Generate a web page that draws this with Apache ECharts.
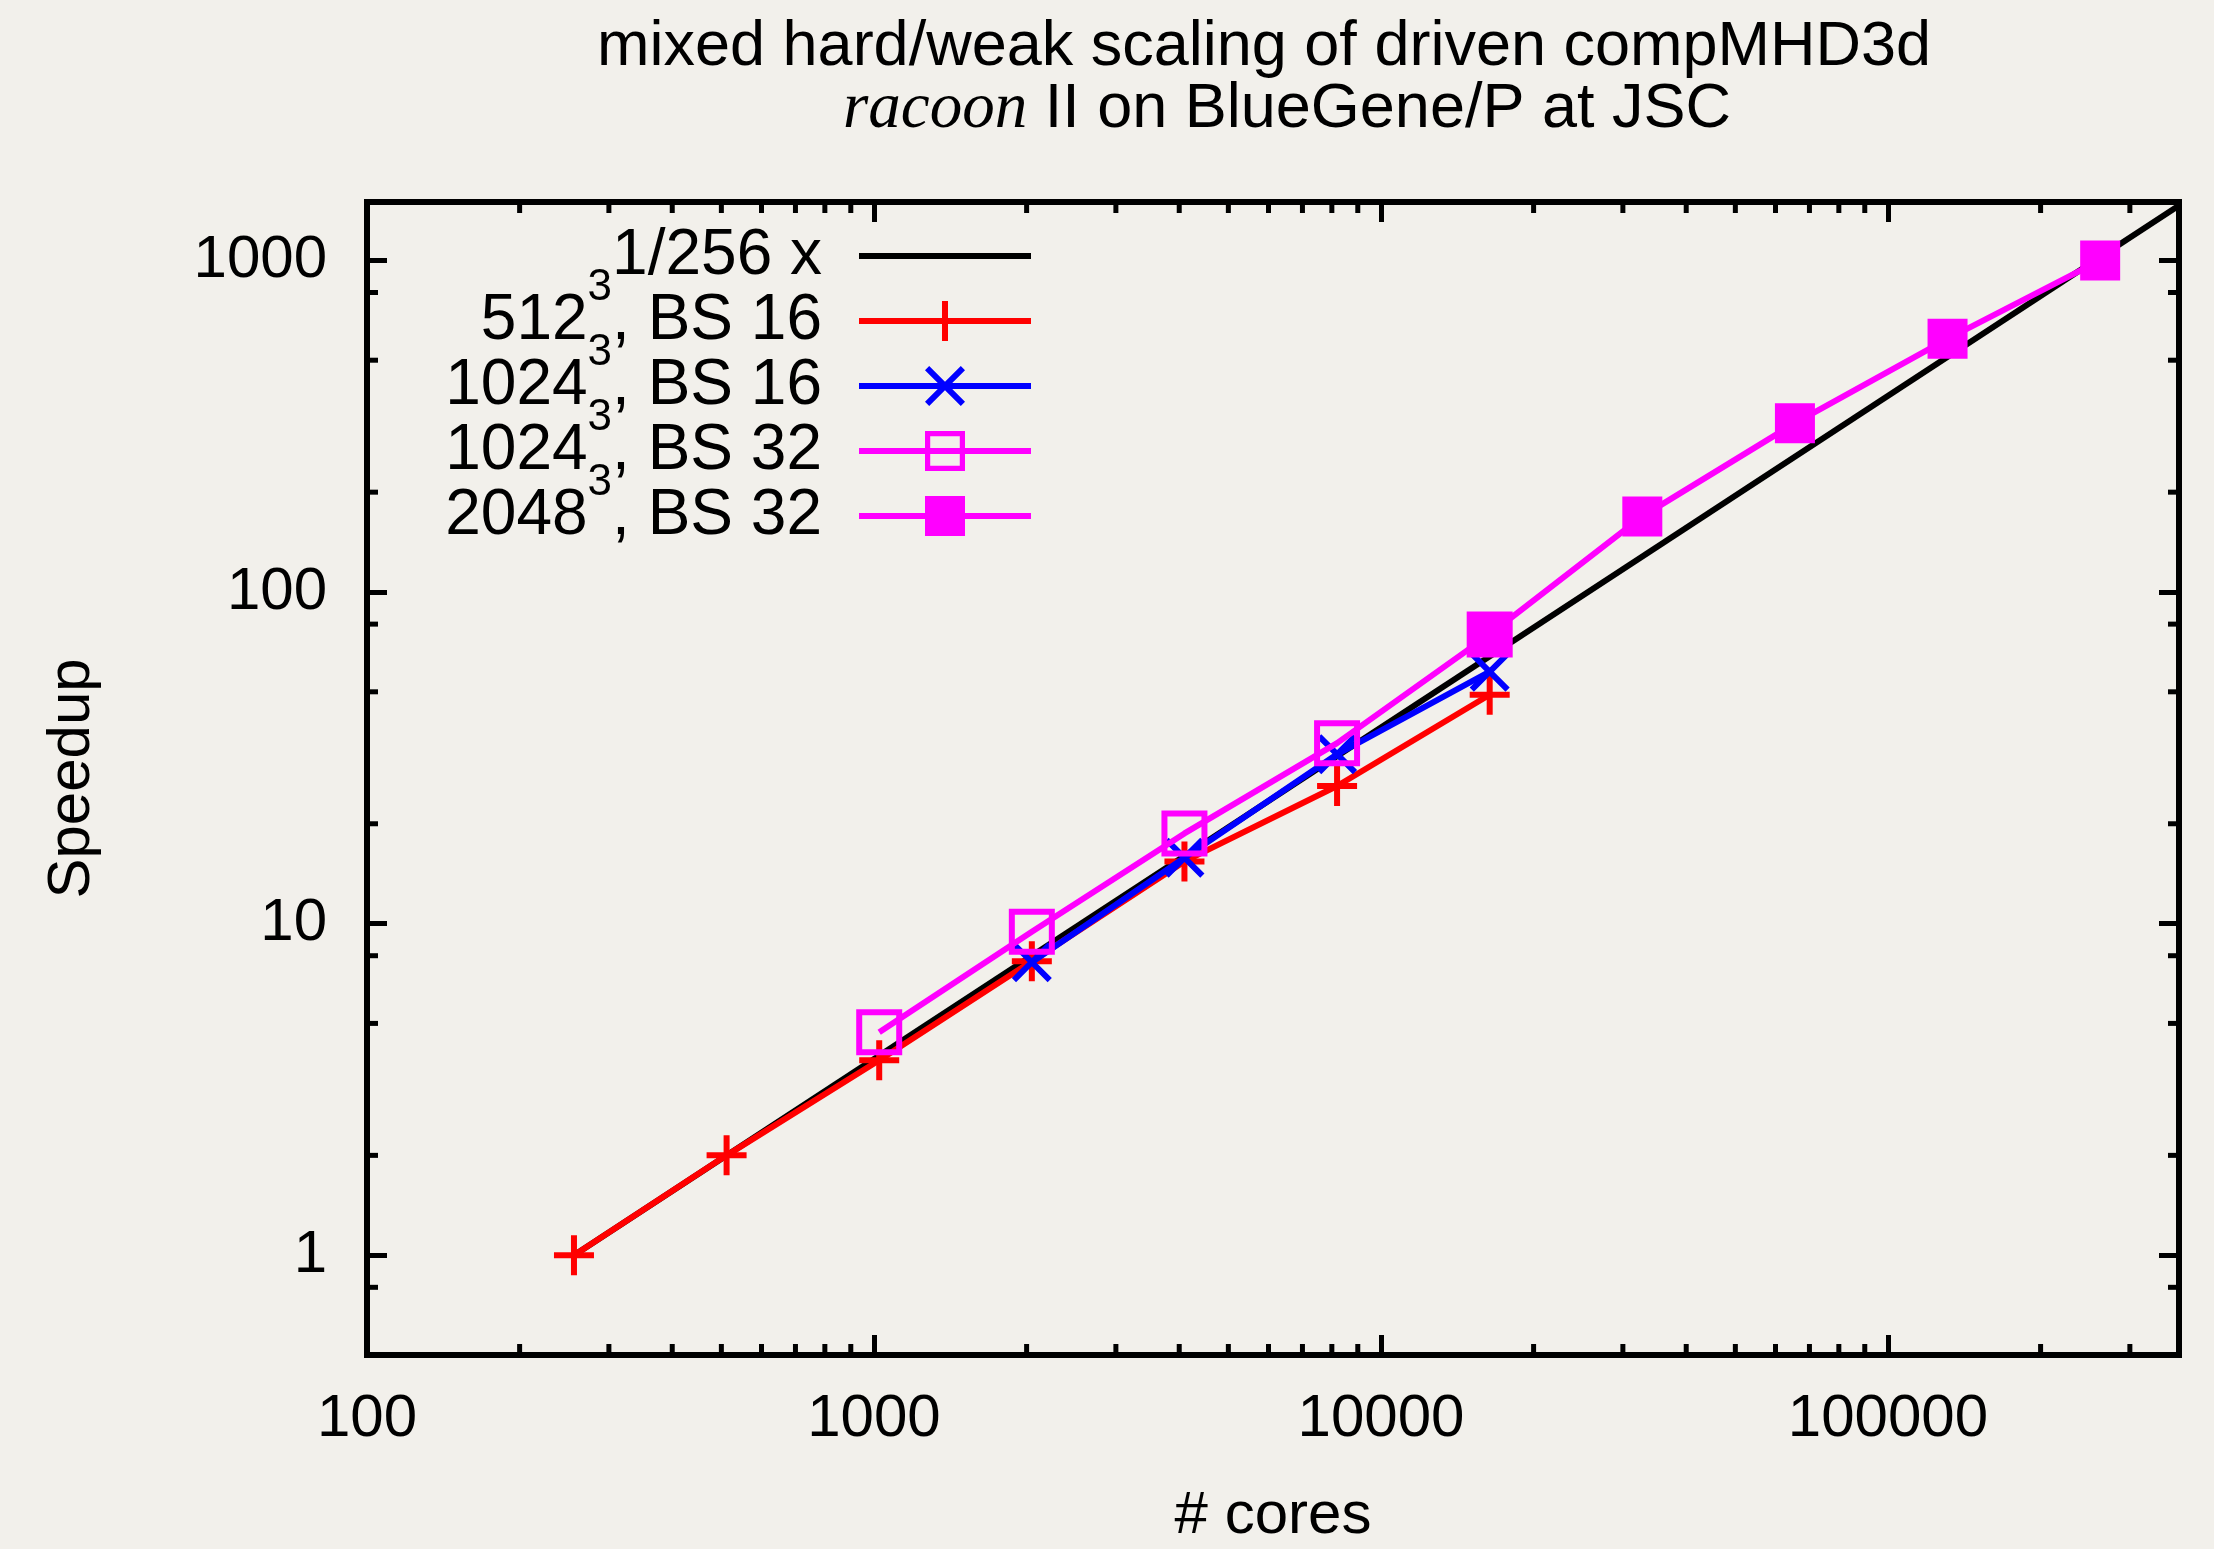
<!DOCTYPE html>
<html>
<head>
<meta charset="utf-8">
<title>mixed hard/weak scaling of driven compMHD3d</title>
<script src="https://cdn.jsdelivr.net/npm/echarts@6/dist/echarts.min.js"></script>
<style>
  html, body { margin: 0; padding: 0; background: #f2f0eb; }
  #main { width: 2214px; height: 1549px; }
</style>
</head>
<body>
<div id="main"></div>
<script>
// ideal scaling line, 1/256 x
var idealCores = [256, 375000];
var idealSpeedup = [1, 1465];

// 512^3, BS 16
var cores512bs16 = [256, 512, 1024, 2048, 4096, 8192, 16384];
var speedup512bs16 = [1, 2, 3.87, 7.7, 15.4, 26, 49];

// 1024^3, BS 16
var cores1024bs16 = [2048, 4096, 8192, 16384];
var speedup1024bs16 = [7.65, 15.8, 32.4, 57.5];

// 1024^3, BS 32
var cores1024bs32 = [1024, 2048, 4096, 8192, 16384];
var speedup1024bs32 = [4.7, 9.45, 18.7, 35, 74.5];

// 2048^3, BS 32
var cores2048bs32 = [16384, 32768, 65536, 131072, 262144];
var speedup2048bs32 = [74.5, 169, 323, 580, 1000];

var seriesNames = ['1/256 x', '512^3, BS 16', '1024^3, BS 16', '1024^3, BS 32', '2048^3, BS 32'];

// minor tick values (gnuplot style)
var xMinorTicks = [200, 300, 400, 500, 600, 700, 800, 900,
                   2000, 3000, 4000, 5000, 6000, 7000, 8000, 9000,
                   20000, 30000, 40000, 50000, 60000, 70000, 80000, 90000,
                   200000, 300000];
var yMinorTicks = [0.8, 2, 5, 8, 20, 50, 80, 200, 500, 800];

var xMin = 100, xMax = 375000;
var yMin = 0.5, yMax = 1500;

var FONT = 'Liberation Sans, Arial, Helvetica, sans-serif';
var plusSymbol = 'path://M17,0 H23 V17 H40 V23 H23 V40 H17 V23 H0 V17 H17 Z';
var crossSymbol = 'path://M0,4.2 L4.2,0 L40,35.8 L35.8,40 Z M35.8,0 L40,4.2 L4.2,40 L0,35.8 Z';
var openSquare = 'path://M0,0 H46 V46 H0 Z M6,6 V40 H40 V6 Z';
var LW = 6;

function pairs(xs, ys) {
    return xs.map(function (x, i) { return [x, ys[i]]; });
}

function decadeLabel(v) {
    var l = Math.log10(v);
    if (Math.abs(l - Math.round(l)) < 1e-6) {
        return String(Math.round(v));
    }
    return '';
}

var tickStyle = { stroke: '#000', lineWidth: 5 };
var minorLen = 11;

var chart = echarts.init(document.getElementById('main'));

var option = {
    backgroundColor: '#f2f0eb',
    animation: false,
    title: [
        {
            text: 'mixed hard/weak scaling of driven compMHD3d',
            left: 597,
            top: 17,
            padding: 0,
            textStyle: { fontFamily: FONT, fontSize: 63, fontWeight: 'normal', color: '#000', lineHeight: 62 }
        },
        {
            text: '{i|racoon}{a| II on BlueGene/P at JSC}',
            left: 843,
            top: 79,
            padding: 0,
            textStyle: {
                fontFamily: FONT, fontSize: 63, fontWeight: 'normal', color: '#000', lineHeight: 62,
                rich: {
                    i: { fontFamily: 'Liberation Serif, Times New Roman, serif', fontStyle: 'italic', fontSize: 65, lineHeight: 62, color: '#000' },
                    a: { fontFamily: FONT, fontSize: 63, lineHeight: 62, color: '#000' }
                }
            }
        }
    ],
    legend: {
        orient: 'vertical',
        align: 'right',
        right: 1180,
        top: 224,
        padding: 0,
        itemWidth: 172,
        itemHeight: 50,
        itemGap: -22,
        selectedMode: false,
        lineStyle: { width: LW },
        data: [
            { name: seriesNames[0], icon: 'path://M0,0 H172 V6 H0 Z' },
            seriesNames[1], seriesNames[2], seriesNames[3], seriesNames[4]
        ],
        formatter: function (name) {
            var p = name.split('^3');
            if (p.length === 1) return '{m|' + name + '}';
            return '{m|' + p[0] + '}{sup|3}{m|' + p[1] + '}';
        },
        textStyle: {
            color: '#000',
            fontFamily: FONT,
            fontSize: 64,
            padding: [0, 32, 0, 0],
            rich: {
                m: { fontFamily: FONT, fontSize: 64, lineHeight: 110, color: '#000' },
                sup: { fontFamily: FONT, fontSize: 44, lineHeight: 12, verticalAlign: 'top', color: '#000' }
            }
        }
    },
    grid: {
        left: 367,
        right: 35,
        top: 202,
        bottom: 194,
        show: true,
        borderColor: '#000',
        borderWidth: 6,
        backgroundColor: 'transparent',
        outerBoundsMode: 'none'
    },
    xAxis: [
        {
            type: 'log',
            min: xMin,
            max: xMax,
            position: 'bottom',
            name: '# cores',
            nameLocation: 'middle',
            nameGap: 131,
            nameTextStyle: { fontFamily: FONT, fontSize: 60, color: '#000', lineHeight: 60 },
            axisLine: { show: false },
            axisTick: { show: true, inside: true, length: 20, lineStyle: { color: '#000', width: 5 } },
            axisLabel: {
                show: true, margin: 34, color: '#000', fontFamily: FONT, fontSize: 60, lineHeight: 60,
                formatter: decadeLabel, showMinLabel: true, showMaxLabel: true
            },
            splitLine: { show: false },
            minorTick: { show: false }
        },
        {
            type: 'log',
            min: xMin,
            max: xMax,
            position: 'top',
            axisLine: { show: false },
            axisTick: { show: true, inside: true, length: 20, lineStyle: { color: '#000', width: 5 } },
            axisLabel: { show: false },
            splitLine: { show: false }
        }
    ],
    yAxis: [
        {
            type: 'log',
            min: yMin,
            max: yMax,
            position: 'left',
            name: 'Speedup',
            nameLocation: 'middle',
            nameGap: 265,
            nameTextStyle: { fontFamily: FONT, fontSize: 60, color: '#000', lineHeight: 60 },
            axisLine: { show: false },
            axisTick: { show: true, inside: true, length: 20, lineStyle: { color: '#000', width: 5 } },
            axisLabel: {
                show: true, margin: 40, color: '#000', fontFamily: FONT, fontSize: 60,
                formatter: decadeLabel
            },
            splitLine: { show: false }
        },
        {
            type: 'log',
            min: yMin,
            max: yMax,
            position: 'right',
            axisLine: { show: false },
            axisTick: { show: true, inside: true, length: 20, lineStyle: { color: '#000', width: 5 } },
            axisLabel: { show: false },
            splitLine: { show: false }
        }
    ],
    series: [
        {
            name: seriesNames[0],
            type: 'line',
            data: pairs(idealCores, idealSpeedup),
            symbol: 'none',
            lineStyle: { color: '#000000', width: LW },
            itemStyle: { color: '#000000' },
            z: 2
        },
        {
            name: seriesNames[1],
            type: 'line',
            data: pairs(cores512bs16, speedup512bs16),
            symbol: plusSymbol,
            symbolSize: 40,
            lineStyle: { color: '#ff0000', width: LW },
            itemStyle: { color: '#ff0000' },
            z: 3
        },
        {
            name: seriesNames[2],
            type: 'line',
            data: pairs(cores1024bs16, speedup1024bs16),
            symbol: crossSymbol,
            symbolSize: 40,
            lineStyle: { color: '#0000ff', width: LW },
            itemStyle: { color: '#0000ff' },
            z: 4
        },
        {
            name: seriesNames[3],
            type: 'line',
            data: pairs(cores1024bs32, speedup1024bs32),
            symbol: openSquare,
            symbolSize: 46,
            lineStyle: { color: '#ff00ff', width: LW },
            itemStyle: { color: '#ff00ff' },
            z: 5
        },
        {
            name: seriesNames[4],
            type: 'line',
            data: pairs(cores2048bs32, speedup2048bs32),
            symbol: 'rect',
            symbolSize: 40,
            lineStyle: { color: '#ff00ff', width: LW },
            itemStyle: { color: '#ff00ff' },
            z: 6
        },
        {
            name: 'x minor ticks',
            type: 'custom',
            silent: true,
            data: xMinorTicks.map(function (v) { return [v, 1]; }),
            renderItem: function (params, api) {
                var b = api.coord([api.value(0), yMin]);
                var t = api.coord([api.value(0), yMax]);
                return {
                    type: 'group',
                    children: [
                        { type: 'line', shape: { x1: b[0], y1: b[1], x2: b[0], y2: b[1] - minorLen }, style: tickStyle },
                        { type: 'line', shape: { x1: t[0], y1: t[1], x2: t[0], y2: t[1] + minorLen }, style: tickStyle }
                    ]
                };
            },
            z: 1
        },
        {
            name: 'y minor ticks',
            type: 'custom',
            silent: true,
            data: yMinorTicks.map(function (v) { return [1000, v]; }),
            renderItem: function (params, api) {
                var l = api.coord([xMin, api.value(1)]);
                var r = api.coord([xMax, api.value(1)]);
                return {
                    type: 'group',
                    children: [
                        { type: 'line', shape: { x1: l[0], y1: l[1], x2: l[0] + minorLen, y2: l[1] }, style: tickStyle },
                        { type: 'line', shape: { x1: r[0], y1: r[1], x2: r[0] - minorLen, y2: r[1] }, style: tickStyle }
                    ]
                };
            },
            z: 1
        }
    ]
};

chart.setOption(option);
</script>
</body>
</html>
